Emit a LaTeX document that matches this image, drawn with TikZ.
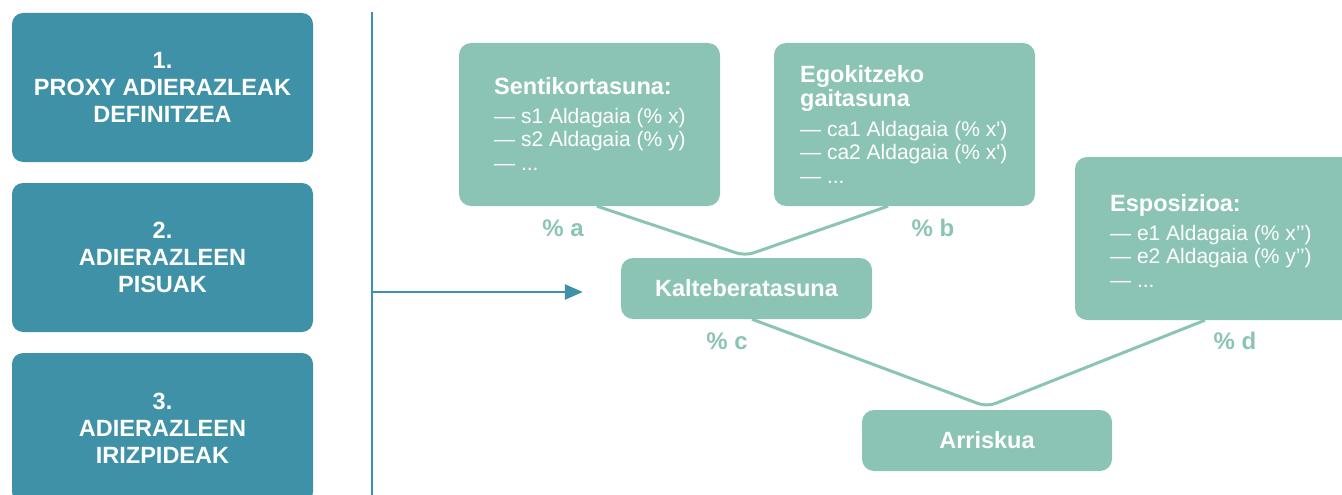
\documentclass[tikz,border=0pt]{standalone}
\usepackage{fontspec}
\setmainfont{Liberation Sans}
\usetikzlibrary{arrows.meta}

\definecolor{stepteal}{HTML}{3E91A7}
\definecolor{leafgreen}{HTML}{8BC4B5}

\newcommand{\boxtitle}{\fontsize{23.5}{23.5}\selectfont\bfseries}
\newcommand{\boxitem}{\fontsize{21}{23.5}\selectfont}

\tikzset{
  stepbox/.style={fill=stepteal, rounded corners=11pt, minimum width=301pt,
    minimum height=149pt, inner sep=0pt, text=white, align=center,
    font=\fontsize{23.5}{27}\selectfont\bfseries},
  infobox/.style={fill=leafgreen, rounded corners=12pt, minimum width=261pt,
    minimum height=163pt, inner sep=0pt},
  infotext/.style={anchor=west, inner sep=0pt, align=left, text=white,
    font=\boxitem},
  factorbox/.style={fill=leafgreen, rounded corners=12pt, minimum width=251pt,
    minimum height=61pt, inner sep=0pt, text=white,
    font=\fontsize{23.5}{23.5}\selectfont\bfseries},
  weight/.style={text=leafgreen, inner sep=0pt,
    font=\fontsize{24}{24}\selectfont\bfseries},
  link/.style={draw=leafgreen, line width=3pt, rounded corners=9pt},
  rule/.style={draw=stepteal, line width=2.5pt},
}

\begin{document}
\begin{tikzpicture}[x=1pt, y=-1pt]
  \useasboundingbox (0,0) rectangle (1342,495);
  \clip (0,0) rectangle (1342,495);

  % procedure steps on the left
  \node[stepbox] (p1) at (162.5,87.5) {1.\\PROXY ADIERAZLEAK\\DEFINITZEA};
  \node[stepbox] (p2) at (162.5,257.5) {2.\\ADIERAZLEEN\\PISUAK};
  \node[stepbox, minimum height=150pt] (p3) at (162.5,428) {3.\\ADIERAZLEEN\\IRIZPIDEAK};

  % bracket with the arrow into the tree
  \coordinate (vt) at (372,12);
  \coordinate (vb) at (372,497);
  \coordinate (va) at (372,292);
  \draw[rule] (vt) -- (vb);

  % indicator groups
  \node[infobox] (sens) at (589.5,124.5) {};
  \node[infotext] (senst) at (494,123.5)
    {{\boxtitle Sentikortasuna:}\\[5.5pt]
     — s1 Aldagaia (\% x)\\
     — s2 Aldagaia (\% y)\\
     — ...};

  \node[infobox] (adap) at (904.5,124.5) {};
  \node[infotext] (adapt) at (800,124.5)
    {{\boxtitle Egokitzeko}\\
     {\boxtitle gaitasuna}\\[6.5pt]
     — ca1 Aldagaia (\% x\textquotesingle)\\
     — ca2 Aldagaia (\% x\textquotesingle)\\
     — ...};

  \node[infobox, minimum width=290pt] (expo) at (1220,238.5) {};
  \node[infotext] (expot) at (1110,240.5)
    {{\boxtitle Esposizioa:}\\[5.5pt]
     — e1 Aldagaia (\% x’’)\\
     — e2 Aldagaia (\% y’’)\\
     — ...};

  % aggregated factors
  \node[factorbox] (vuln) at (746.5,288.5) {Kalteberatasuna};
  \node[factorbox, minimum width=250pt] (risk) at (987,440.5) {Arriskua};

  \draw[rule, -{Triangle[length=18pt,width=15pt]}, shorten >=38pt]
    (va) -- (va -| vuln.west);

  % weighted links
  \draw[link] ([xshift=7.5pt]sens.south) -- ([xshift=-1.5pt,yshift=2pt]vuln.north)
    -- ([xshift=-16.5pt]adap.south);
  \draw[link] ([xshift=5.5pt]vuln.south) -- ([yshift=3pt]risk.north)
    -- ([xshift=-15pt]expo.south);

  % weights
  \node[weight] (wa) at (563,228) {\% a};
  \node[weight] (wb) at (933,228) {\% b};
  \node[weight] (wc) at (727,341) {\% c};
  \node[weight] (wd) at (1235,341) {\% d};
\end{tikzpicture}
\end{document}
